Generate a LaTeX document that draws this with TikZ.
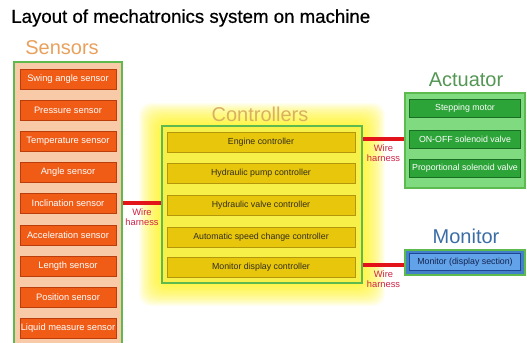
\documentclass[tikz,border=0pt]{standalone}
\usepackage{fontspec}
\setmainfont{Liberation Sans}
\newfontfamily\heavyfont{Liberation Sans}[FakeBold=0.6]
\usetikzlibrary{fit,shadows}

\definecolor{senfill}{RGB}{249,202,168}
\definecolor{senbox}{RGB}{240,92,22}
\definecolor{senline}{RGB}{185,62,12}
\definecolor{frame}{RGB}{92,186,78}
\definecolor{confill}{RGB}{246,240,72}
\definecolor{conbox}{RGB}{232,198,12}
\definecolor{conline}{RGB}{180,150,10}
\definecolor{actfill}{RGB}{128,218,128}
\definecolor{actbox}{RGB}{44,164,56}
\definecolor{actline}{RGB}{25,110,35}
\definecolor{monfill}{RGB}{66,128,200}
\definecolor{monbox}{RGB}{98,162,232}
\definecolor{monline}{RGB}{30,70,150}
\definecolor{wire}{RGB}{226,20,26}
\definecolor{wiretext}{RGB}{205,35,70}

\begin{document}
\begin{tikzpicture}[x=0.75pt, y=-0.75pt]
        \useasboundingbox (0,0) rectangle (527,342);
        % yellow halo round the controllers
        \foreach \g in {1,...,22}
                \fill[yellow, opacity=0.055, rounded corners=9pt] (162-1.05*\g,126-1.05*\g) rectangle (362+1.05*\g,283+1.05*\g);
        % titles
        \node[anchor=west, inner sep=0, font=\heavyfont\fontsize{14}{16}\selectfont] (T) at (11,18) {Layout of mechatronics system on machine};
        \begin{scope}[every node/.style={inner sep=0, font=\fontsize{15}{17}\selectfont}]
                \node[text={rgb,255:red,232;green,160;blue,92}] (Ts) at (62,48) {Sensors};
                \node[text={rgb,255:red,216;green,176;blue,96}] (Tc) at (260,114) {Controllers};
                \node[text={rgb,255:red,84;green,150;blue,84}] (Ta) at (466,80) {Actuator};
                \node[text={rgb,255:red,58;green,108;blue,165}] (Tm) at (466,236) {Monitor};
        \end{scope}
        % frames
        \begin{scope}[every node/.style={draw=frame, thick, inner sep=0}]
                \node[fill=senfill, fit={(14,62) (122,352)}] (SB) {};
                \node[fill=confill, fit={(162,126) (362,283)}] (CB) {};
                \node[fill=actfill, fit={(405,93) (525,188)}] (AB) {};
                \node[fill=monfill, fit={(405,250) (525,275)}] (MB) {};
        \end{scope}
        % sensors
        \begin{scope}[every node/.style={draw=senline, fill=senbox, text=white, minimum width=72pt, minimum height=15pt, inner sep=0, font=\fontsize{7}{8}\selectfont, drop shadow={shadow xshift=0.4pt, shadow yshift=-0.9pt, opacity=0.45}}]
                \node (Sw) at (68,79) {Swing angle sensor};
                \node (Pr) at (68,110) {Pressure sensor};
                \node (Te) at (68,141) {Temperature sensor};
                \node (An) at (68,172) {Angle sensor};
                \node (In) at (68,203) {Inclination sensor};
                \node (Ac) at (68,235) {Acceleration sensor};
                \node (Le) at (68,266) {Length sensor};
                \node (Po) at (68,297) {Position sensor};
                \node (Li) at (68,328) {Liquid measure sensor};
        \end{scope}
        % controllers
        \begin{scope}[every node/.style={draw=conline, fill=conbox, text={rgb,255:red,50;green,45;blue,30}, minimum width=141pt, minimum height=15pt, inner sep=0, font=\fontsize{6.6}{8}\selectfont, drop shadow={shadow xshift=0.4pt, shadow yshift=-0.9pt, opacity=0.35}}]
                \node (En) at (261,142) {Engine controller};
                \node (Hp) at (261,173) {Hydraulic pump controller};
                \node (Hv) at (261,205) {Hydraulic valve controller};
                \node (As) at (261,237) {Automatic speed change controller};
                \node (Md) at (261,267) {Monitor display controller};
        \end{scope}
        % actuators
        \begin{scope}[every node/.style={draw=actline, fill=actbox, text=white, minimum width=83pt, minimum height=13.5pt, inner sep=0, font=\fontsize{6.6}{8}\selectfont, drop shadow={shadow xshift=0.4pt, shadow yshift=-0.8pt, opacity=0.35}}]
                \node (St) at (465,108) {Stepping motor};
                \node (On) at (465,139) {ON-OFF solenoid valve};
                \node (Pv) at (465,168) {Proportional solenoid valve};
        \end{scope}
        % monitor
        \node[draw=monline, fill=monbox, text={rgb,255:red,20;green,35;blue,80}, minimum width=83pt, minimum height=12.5pt, inner sep=0, font=\fontsize{6.6}{8}\selectfont] (Mo) at (465,262) {Monitor (display section)};
        % wire harnesses
        \begin{scope}[every path/.style={draw=wire, line width=3pt}, every node/.style={below, text=wiretext, align=center, inner sep=2.5pt, font=\fontsize{7}{7.5}\selectfont}]
                \path (SB.east |- In) edge node {Wire\\harness} (CB.west |- In);
                \path (CB.east |- On) edge node {Wire\\harness} (AB.west |- On);
                \path (CB.east |- 0,265) edge node {Wire\\harness} (MB.west |- 0,265);
        \end{scope}
\end{tikzpicture}
\end{document}
